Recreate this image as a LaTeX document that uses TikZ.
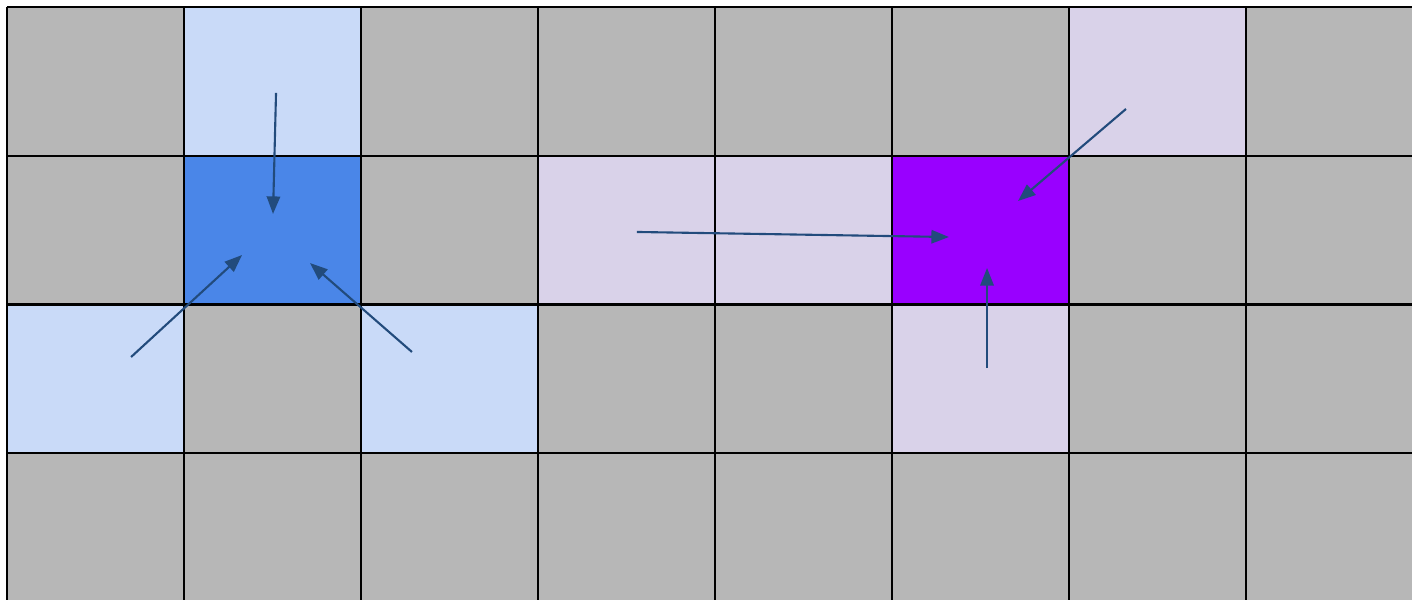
\documentclass[tikz,border=0pt]{standalone}
\usetikzlibrary{arrows.meta}
\definecolor{cgray}{HTML}{B7B7B7}
\definecolor{lblue}{HTML}{C9DAF8}
\definecolor{mblue}{HTML}{4A86E8}
\definecolor{lpurple}{HTML}{D9D2E9}
\definecolor{vpurple}{HTML}{9900FF}
\definecolor{ablue}{HTML}{224B7C}
\tikzset{
  gridline/.style={line width=0.65pt,black},
  flow/.style={draw=ablue,line width=0.6pt,-{Triangle[length=5pt,width=3.8pt]}}
}
\begin{document}
\begin{tikzpicture}[x=1.77cm,y=-1.487cm]
  \useasboundingbox (-0.0395,-0.0471) rectangle (7.938,3.988);
  \clip (-0.0395,-0.0471) rectangle (7.938,3.988);
  \fill[white] (-0.0395,-0.0471) rectangle (7.938,3.988);
  \fill[cgray] (0,0) rectangle (8,4);
  \foreach \c/\r/\col in {1/0/lblue, 6/0/lpurple, 1/1/mblue, 3/1/lpurple, 4/1/lpurple,
                          5/1/vpurple, 0/2/lblue, 2/2/lblue, 5/2/lpurple}
    \fill[\col] (\c,\r) rectangle ++(1,1);
  \foreach \c in {0,...,8}
    \draw[gridline] (\c,0) -- (\c,4);
  \foreach \r in {0,...,4}
    \draw[gridline] (0,\r) -- (8,\r);
  \coordinate (Ts) at (1.520,0.578);
  \coordinate (Te) at (1.503,1.392);
  \coordinate (Ls) at (0.701,2.354);
  \coordinate (Le) at (1.328,1.668);
  \coordinate (Rs) at (2.288,2.320);
  \coordinate (Re) at (1.712,1.722);
  \coordinate (Hs) at (3.559,1.513);
  \coordinate (He) at (5.322,1.547);
  \coordinate (Ds) at (6.322,0.686);
  \coordinate (De) at (5.712,1.305);
  \coordinate (Us) at (5.537,2.428);
  \coordinate (Ue) at (5.537,1.755);
  \draw[flow] (Ts) -- (Te);
  \draw[flow] (Ls) -- (Le);
  \draw[flow] (Rs) -- (Re);
  \draw[flow] (Hs) -- (He);
  \draw[flow] (Ds) -- (De);
  \draw[flow] (Us) -- (Ue);
\end{tikzpicture}
\end{document}
